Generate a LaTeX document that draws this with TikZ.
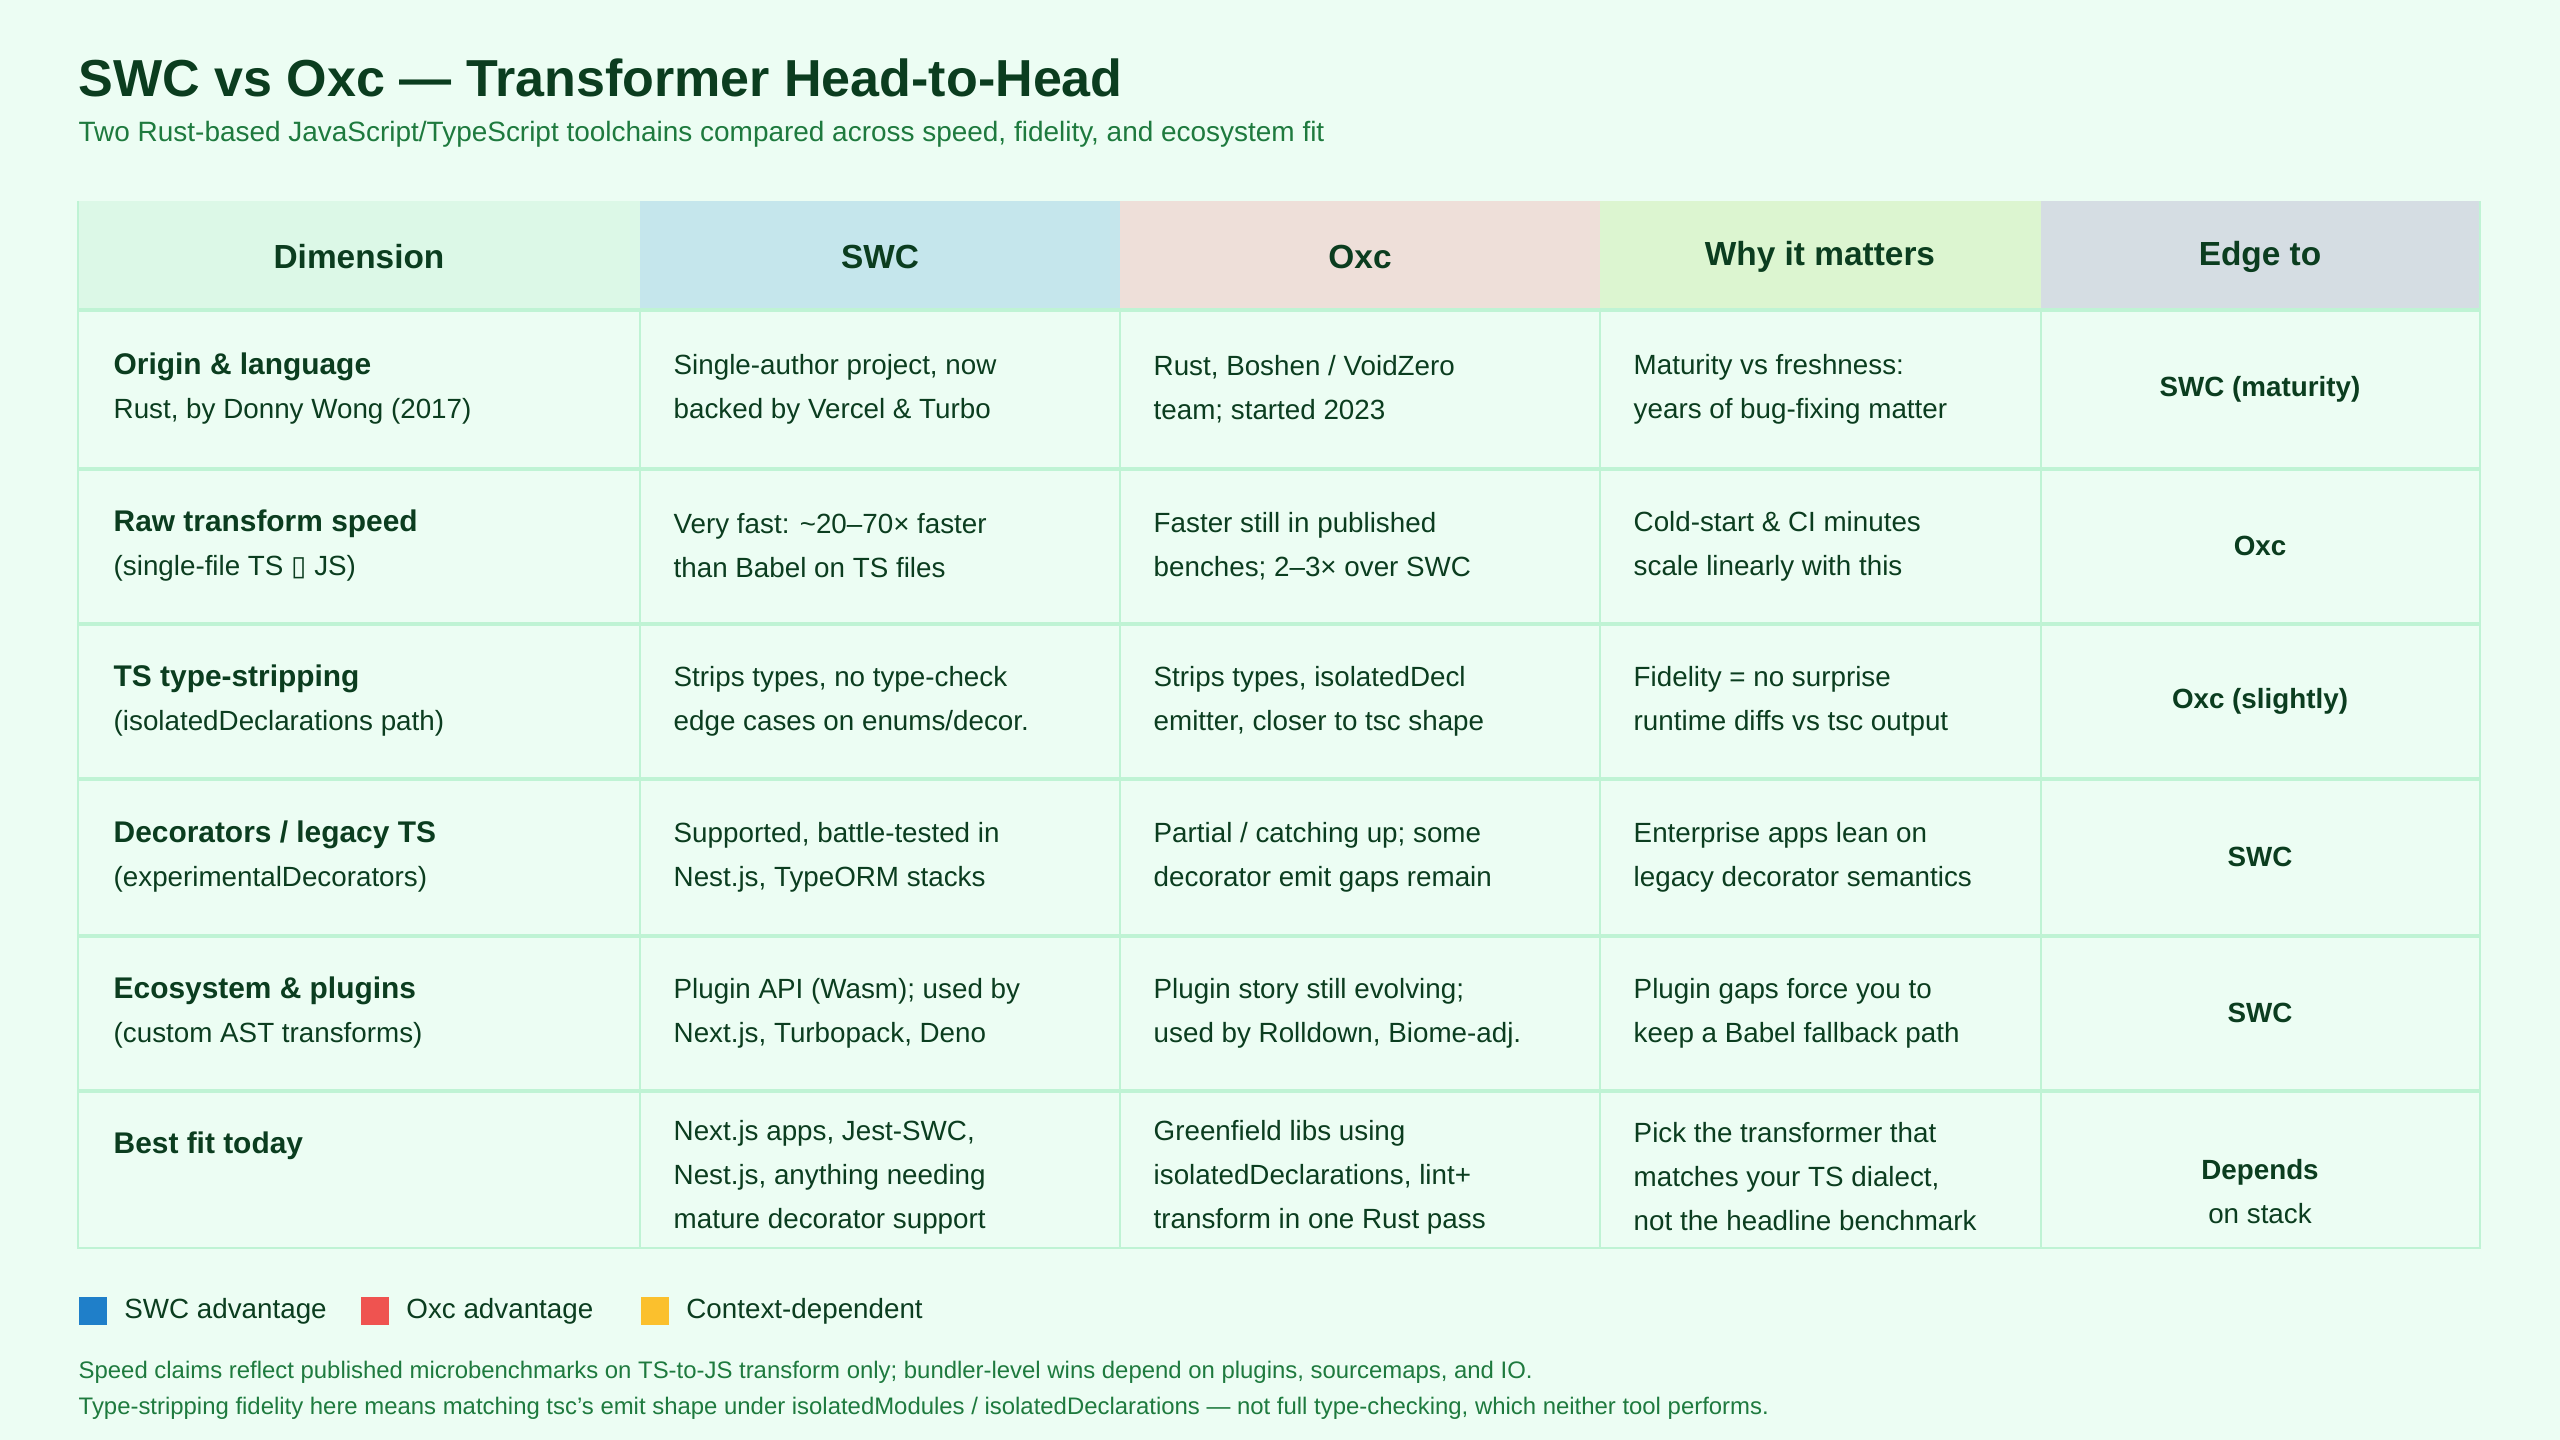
\documentclass[tikz,border=0pt]{standalone}
\usepackage{fontspec}
\setmainfont{Liberation Sans}
\newfontfamily\symfont{DejaVu Sans}
\usetikzlibrary{positioning}
\definecolor{pagebg}{HTML}{ECFDF3}
\definecolor{rule}{HTML}{BFF3D4}
\definecolor{ink}{HTML}{0B3D1F}
\definecolor{subink}{HTML}{1E7A3E}
\definecolor{hdim}{HTML}{DCF8E7}
\definecolor{hswc}{HTML}{C5E6EC}
\definecolor{hoxc}{HTML}{EEDFD9}
\definecolor{hwhy}{HTML}{DCF5D0}
\definecolor{hedge}{HTML}{D5DDE3}
\definecolor{cswc}{HTML}{1F7FC9}
\definecolor{coxc}{HTML}{EF5350}
\definecolor{cctx}{HTML}{FBC02D}
\newcommand{\rowhead}[1]{{\fontsize{8.5}{12.5}\selectfont\bfseries #1}}
\tikzset{
  head/.style={font=\fontsize{9.5}{11}\selectfont\bfseries, text=ink},
  cell/.style={anchor=west, align=left, inner sep=0pt, text=ink,
    font=\fontsize{7.9}{12.5}\selectfont},
  edge/.style={align=center, inner sep=0pt, text=ink,
    font=\fontsize{7.9}{12.5}\selectfont\bfseries},
  key/.style={minimum size=0.28cm, inner sep=0pt},
  keytext/.style={anchor=west, inner sep=0pt, text=ink, font=\fontsize{7.9}{9}\selectfont},
  note/.style={anchor=west, inner sep=0pt, text=subink, font=\fontsize{6.8}{8}\selectfont}
}
\begin{document}
\begin{tikzpicture}[x=0.01cm,y=-0.01cm]
\fill[pagebg] (0,0) rectangle (2560,1440);
\useasboundingbox (0,0) rectangle (2560,1440);

% title
\node[anchor=west, inner sep=0pt, text=ink, font=\fontsize{14.8}{16}\selectfont\bfseries] (title) at (78,78) {SWC vs Oxc — Transformer Head-to-Head};
\node[anchor=west, inner sep=0pt, text=subink, font=\fontsize{7.95}{9}\selectfont] (sub) at (78,134) {Two Rust-based JavaScript/TypeScript toolchains compared across speed, fidelity, and ecosystem fit};

% header
\fill[hdim] (78,201) rectangle (640,310);
\fill[hswc] (640,201) rectangle (1120,310);
\fill[hoxc] (1120,201) rectangle (1600,310);
\fill[hwhy] (1600,201) rectangle (2041,310);
\fill[hedge] (2041,201) rectangle (2480,310);
\node[head] (hd) at (359,257) {Dimension};
\node[head] (hs) at (880,257) {SWC};
\node[head] (ho) at (1360,257) {Oxc};
\node[head] (hw) at (1820,257) {Why it matters};
\node[head] (he) at (2260,257) {Edge to};

% grid
\foreach \y in {310,469,624,779,936,1091}
  \draw[rule, line width=1.4pt] (78,\y) -- (2480,\y);
\foreach \x in {640,1120,1600,2041}
  \draw[rule, line width=0.8pt] (\x,310) -- (\x,1248);
\draw[rule, line width=0.8pt] (78,201) -- (78,1248) -- (2480,1248) -- (2480,201);

% rows
\node[cell] (d1) at (113,389) {\rowhead{Origin \& language}\\Rust, by Donny Wong (2017)};
\node[cell] (s1) at (673,389) {Single-author project, now\\backed by Vercel \& Turbo};
\node[cell] (o1) at (1153,389) {Rust, Boshen / VoidZero\\team; started 2023};
\node[cell] (w1) at (1633,389) {Maturity vs freshness:\\years of bug-fixing matter};
\node[edge] (e1) at (2260,389) {SWC (maturity)};

\node[cell] (d2) at (113,546) {\rowhead{Raw transform speed}\\(single-file TS {\symfont ▯} JS)};
\node[cell] (s2) at (673,546) {Very fast: \textasciitilde20–70× faster\\than Babel on TS files};
\node[cell] (o2) at (1153,546) {Faster still in published\\benches; 2–3× over SWC};
\node[cell] (w2) at (1633,546) {Cold-start \& CI minutes\\scale linearly with this};
\node[edge] (e2) at (2260,546) {Oxc};

\node[cell] (d3) at (113,701) {\rowhead{TS type-stripping}\\(isolatedDeclarations path)};
\node[cell] (s3) at (673,701) {Strips types, no type-check\\edge cases on enums/decor.};
\node[cell] (o3) at (1153,701) {Strips types, isolatedDecl\\emitter, closer to tsc shape};
\node[cell] (w3) at (1633,701) {Fidelity = no surprise\\runtime diffs vs tsc output};
\node[edge] (e3) at (2260,701) {Oxc (slightly)};

\node[cell] (d4) at (113,857) {\rowhead{Decorators / legacy TS}\\(experimentalDecorators)};
\node[cell] (s4) at (673,857) {Supported, battle-tested in\\Nest.js, TypeORM stacks};
\node[cell] (o4) at (1153,857) {Partial / catching up; some\\decorator emit gaps remain};
\node[cell] (w4) at (1633,857) {Enterprise apps lean on\\legacy decorator semantics};
\node[edge] (e4) at (2260,857) {SWC};

\node[cell] (d5) at (113,1013) {\rowhead{Ecosystem \& plugins}\\(custom AST transforms)};
\node[cell] (s5) at (673,1013) {Plugin API (Wasm); used by\\Next.js, Turbopack, Deno};
\node[cell] (o5) at (1153,1013) {Plugin story still evolving;\\used by Rolldown, Biome-adj.};
\node[cell] (w5) at (1633,1013) {Plugin gaps force you to\\keep a Babel fallback path};
\node[edge] (e5) at (2260,1013) {SWC};

\node[cell] (d6) at (113,1146) {\rowhead{Best fit today}};
\node[cell] (s6) at (673,1177) {Next.js apps, Jest-SWC,\\Nest.js, anything needing\\mature decorator support};
\node[cell] (o6) at (1153,1177) {Greenfield libs using\\isolatedDeclarations, lint+\\transform in one Rust pass};
\node[cell] (w6) at (1633,1177) {Pick the transformer that\\matches your TS dialect,\\not the headline benchmark};
\node[edge] (e6) at (2260,1192) {Depends\\\mdseries on stack};

% legend
\node[key, fill=cswc] (k1) at (93,1311) {};
\node[keytext, right=0.16cm of k1] (t1) {SWC advantage};
\node[key, fill=coxc] (k2) at (375,1311) {};
\node[keytext, right=0.16cm of k2] (t2) {Oxc advantage};
\node[key, fill=cctx] (k3) at (655,1311) {};
\node[keytext, right=0.16cm of k3] (t3) {Context-dependent};

% notes
\node[note] (n1) at (78,1372) {Speed claims reflect published microbenchmarks on TS-to-JS transform only; bundler-level wins depend on plugins, sourcemaps, and IO.};
\node[note] (n2) at (78,1408) {Type-stripping fidelity here means matching tsc's emit shape under isolatedModules / isolatedDeclarations — not full type-checking, which neither tool performs.};
\end{tikzpicture}
\end{document}
